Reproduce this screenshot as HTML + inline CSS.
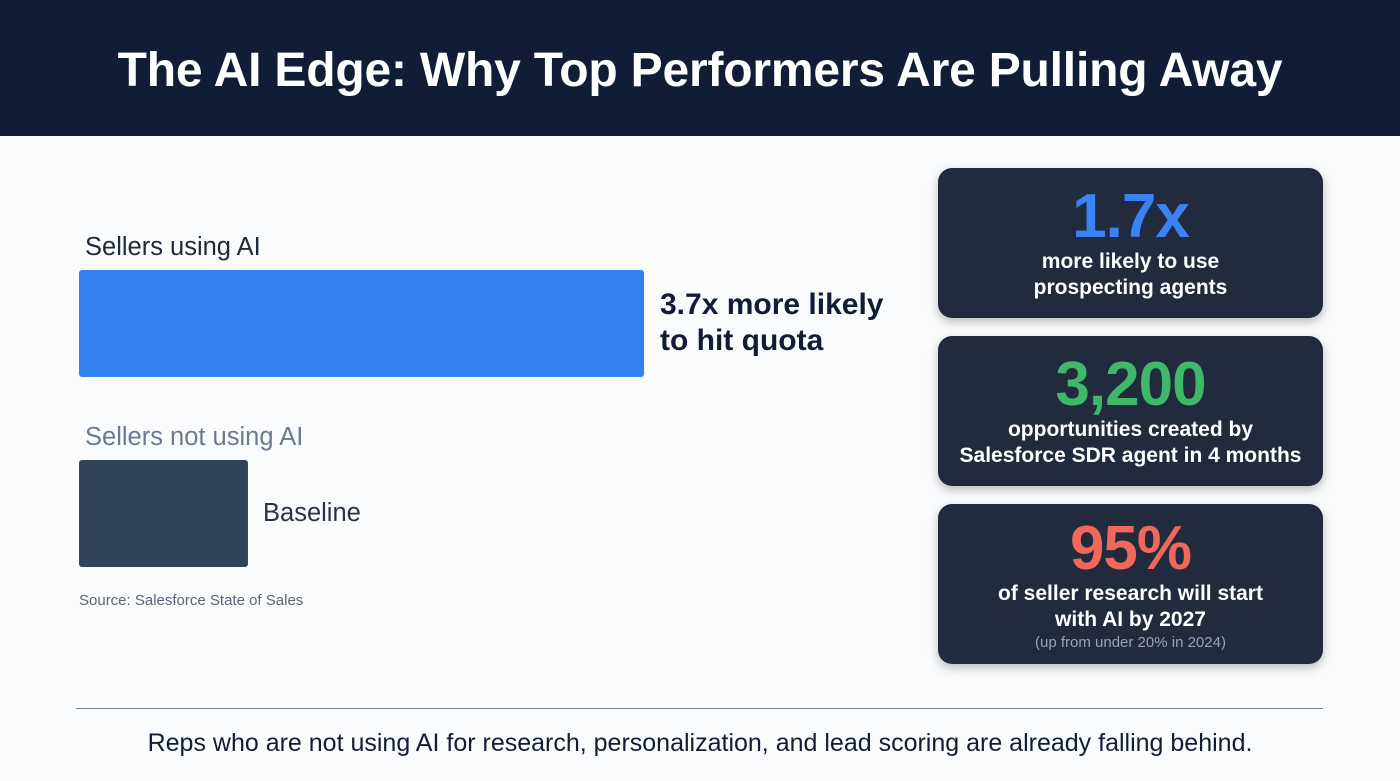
<!DOCTYPE html>
<html><head><meta charset="utf-8"><style>
*{margin:0;padding:0;box-sizing:border-box}
body{width:1400px;height:781px;background:#fafbfc;font-family:"Liberation Sans",sans-serif;position:relative;overflow:hidden}
.hdr{position:absolute;left:0;top:0;width:1400px;height:136px;background:#111c36;color:#fff;font-weight:bold;font-size:48px;text-align:center;line-height:142px;letter-spacing:-0.2px}
.lbl{position:absolute;font-size:25.5px}
.card{position:absolute;left:938px;width:385px;background:#212b3d;border-radius:14px;box-shadow:0 4px 10px rgba(0,0,0,0.25);text-align:center;color:#fff;font-weight:bold}
.big{font-size:62px;line-height:62px;letter-spacing:-1px}
.sub{font-size:21px;line-height:26px}
</style></head><body>
<div class="hdr">The AI Edge: Why Top Performers Are Pulling Away</div>
<div class="lbl" style="left:85px;top:233px;color:#1e293b">Sellers using AI</div>
<div class="lbl" style="left:85px;top:423px;color:#6b7a93">Sellers not using AI</div>
<svg id="chart" width="1400" height="781" style="position:absolute;left:0;top:0"></svg>
<div class="lbl" style="left:660px;top:287px;font-size:30px;font-weight:bold;color:#111c36;line-height:36px">3.7x more likely<br>to hit quota</div>
<div class="lbl" style="left:263px;top:499px;color:#2a3447">Baseline</div>
<div class="lbl" style="left:79px;top:592px;font-size:15px;color:#5a6478">Source: Salesforce State of Sales</div>
<div class="card" style="top:168px;height:150px">
<div class="big" style="color:#3b82f6;margin-top:18px">1.7x</div>
<div class="sub" style="margin-top:1px">more likely to use<br>prospecting agents</div></div>
<div class="card" style="top:336px;height:150px">
<div class="big" style="color:#3fb86a;margin-top:18px">3,200</div>
<div class="sub" style="margin-top:1px">opportunities created by<br>Salesforce SDR agent in 4 months</div></div>
<div class="card" style="top:504px;height:160px">
<div class="big" style="color:#f0685a;margin-top:14px">95%</div>
<div class="sub" style="margin-top:1px">of seller research will start<br>with AI by 2027</div>
<div style="font-size:15px;font-weight:normal;color:#98a2b3;margin-top:1px">(up from under 20% in 2024)</div></div>
<div style="position:absolute;left:76px;top:708px;width:1247px;height:1px;background:#7a8394"></div>
<div style="position:absolute;left:0;width:1400px;top:729px;text-align:center;font-size:25px;color:#111c36">Reps who are not using AI for research, personalization, and lead scoring are already falling behind.</div>
<script>
const categories=["Sellers using AI","Sellers not using AI"];
const values=[3.7,1];
const colors=["#3580f0","#334359"];
const barTops=[270,460];
const x0=79,xMin=-0.152,xMax=3.7,xRange=565;
function xScale(v){return (v-xMin)/(xMax-xMin)*xRange;}
const svg=document.getElementById('chart');
values.forEach((v,i)=>{
 const r=document.createElementNS('http://www.w3.org/2000/svg','rect');
 r.setAttribute('x',x0);r.setAttribute('y',barTops[i]);
 r.setAttribute('width',xScale(v));r.setAttribute('height',107);
 r.setAttribute('rx',3);r.setAttribute('fill',colors[i]);
 
 
 svg.appendChild(r);
});
</script>
</body></html>
